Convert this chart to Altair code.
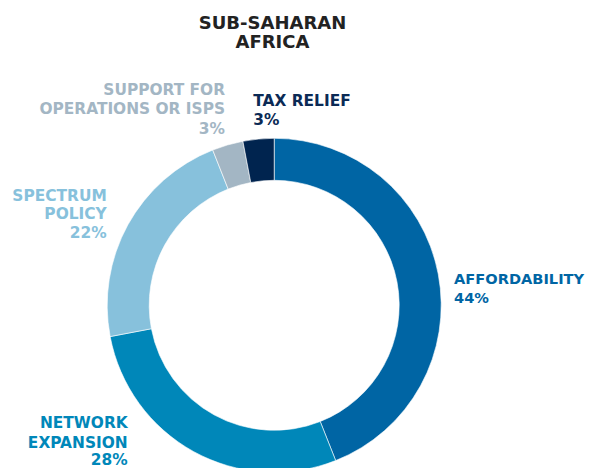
import altair as alt
import pandas as pd

categories = ["AFFORDABILITY", "NETWORK EXPANSION", "SPECTRUM POLICY",
              "SUPPORT FOR OPERATIONS OR ISPS", "TAX RELIEF"]
shares = [44, 28, 22, 3, 3]
palette = ["#0065A4", "#0087B9", "#87C1DC", "#A3B6C4", "#00244F"]

df = pd.DataFrame({"category": categories, "share": shares,
                   "order": list(range(len(categories)))})

FONT = "DejaVu Sans"
FS = 15.4

arc = alt.Chart(df).mark_arc(radius=167, radius2=125, stroke="white",
                             strokeWidth=0.6).encode(
    theta=alt.Theta("share:Q", stack=True),
    order=alt.Order("order:Q"),
    color=alt.Color("category:N", scale=alt.Scale(domain=categories, range=palette),
                    legend=None),
    x=alt.value(266.2),
    y=alt.value(297.3),
)

def label(lines, pct, x, y, lh, pct_y, align, color, fs=FS):
    base = alt.Chart(df).transform_filter("datum.order == 0")
    name = base.mark_text(align=align, baseline="alphabetic", font=FONT,
                          fontWeight="bold", fontSize=fs, lineHeight=lh,
                          color=color).encode(
        x=alt.value(x), y=alt.value(y), text=alt.value(lines))
    p = base.mark_text(align=align, baseline="alphabetic", font=FONT,
                       fontWeight="bold", fontSize=fs, color=color).encode(
        x=alt.value(x), y=alt.value(pct_y), text=alt.value(pct))
    return [name, p]

title = alt.Chart(df).transform_filter("datum.order == 0").mark_text(
    align="center", baseline="alphabetic", font=FONT, fontWeight="bold",
    fontSize=18, lineHeight=19.5, color="#222222").encode(
    x=alt.value(264.5), y=alt.value(20.5),
    text=alt.value(["SUB-SAHARAN", "AFRICA"]))

layers = [arc, title]
layers += label(["SUPPORT FOR", "OPERATIONS OR ISPS"], f"{shares[3]}%",
                217, 87, 19.3, 125.5, "right", "#A3B6C4")
layers += label(["TAX RELIEF"], f"{shares[4]}%", 245.3, 98, 19, 117,
                "left", "#0B2A55")
layers += label(["SPECTRUM", "POLICY"], f"{shares[2]}%", 98.7, 193, 17.5,
                229.5, "right", "#87C1DC")
layers += label(["AFFORDABILITY"], f"{shares[0]}%", 446, 276.3, 19, 295.3,
                "left", "#0065A4", fs=14.6)
layers += label(["NETWORK", "EXPANSION"], f"{shares[1]}%", 119.7, 419.7, 20,
                457, "right", "#0087B9")

chart = alt.layer(*layers).properties(
    width=577, height=462, autosize=alt.AutoSizeParams(type="none"), padding=0
).configure_view(stroke=None)

chart.save("out.html", embed_options={"renderer": "svg", "actions": False})
